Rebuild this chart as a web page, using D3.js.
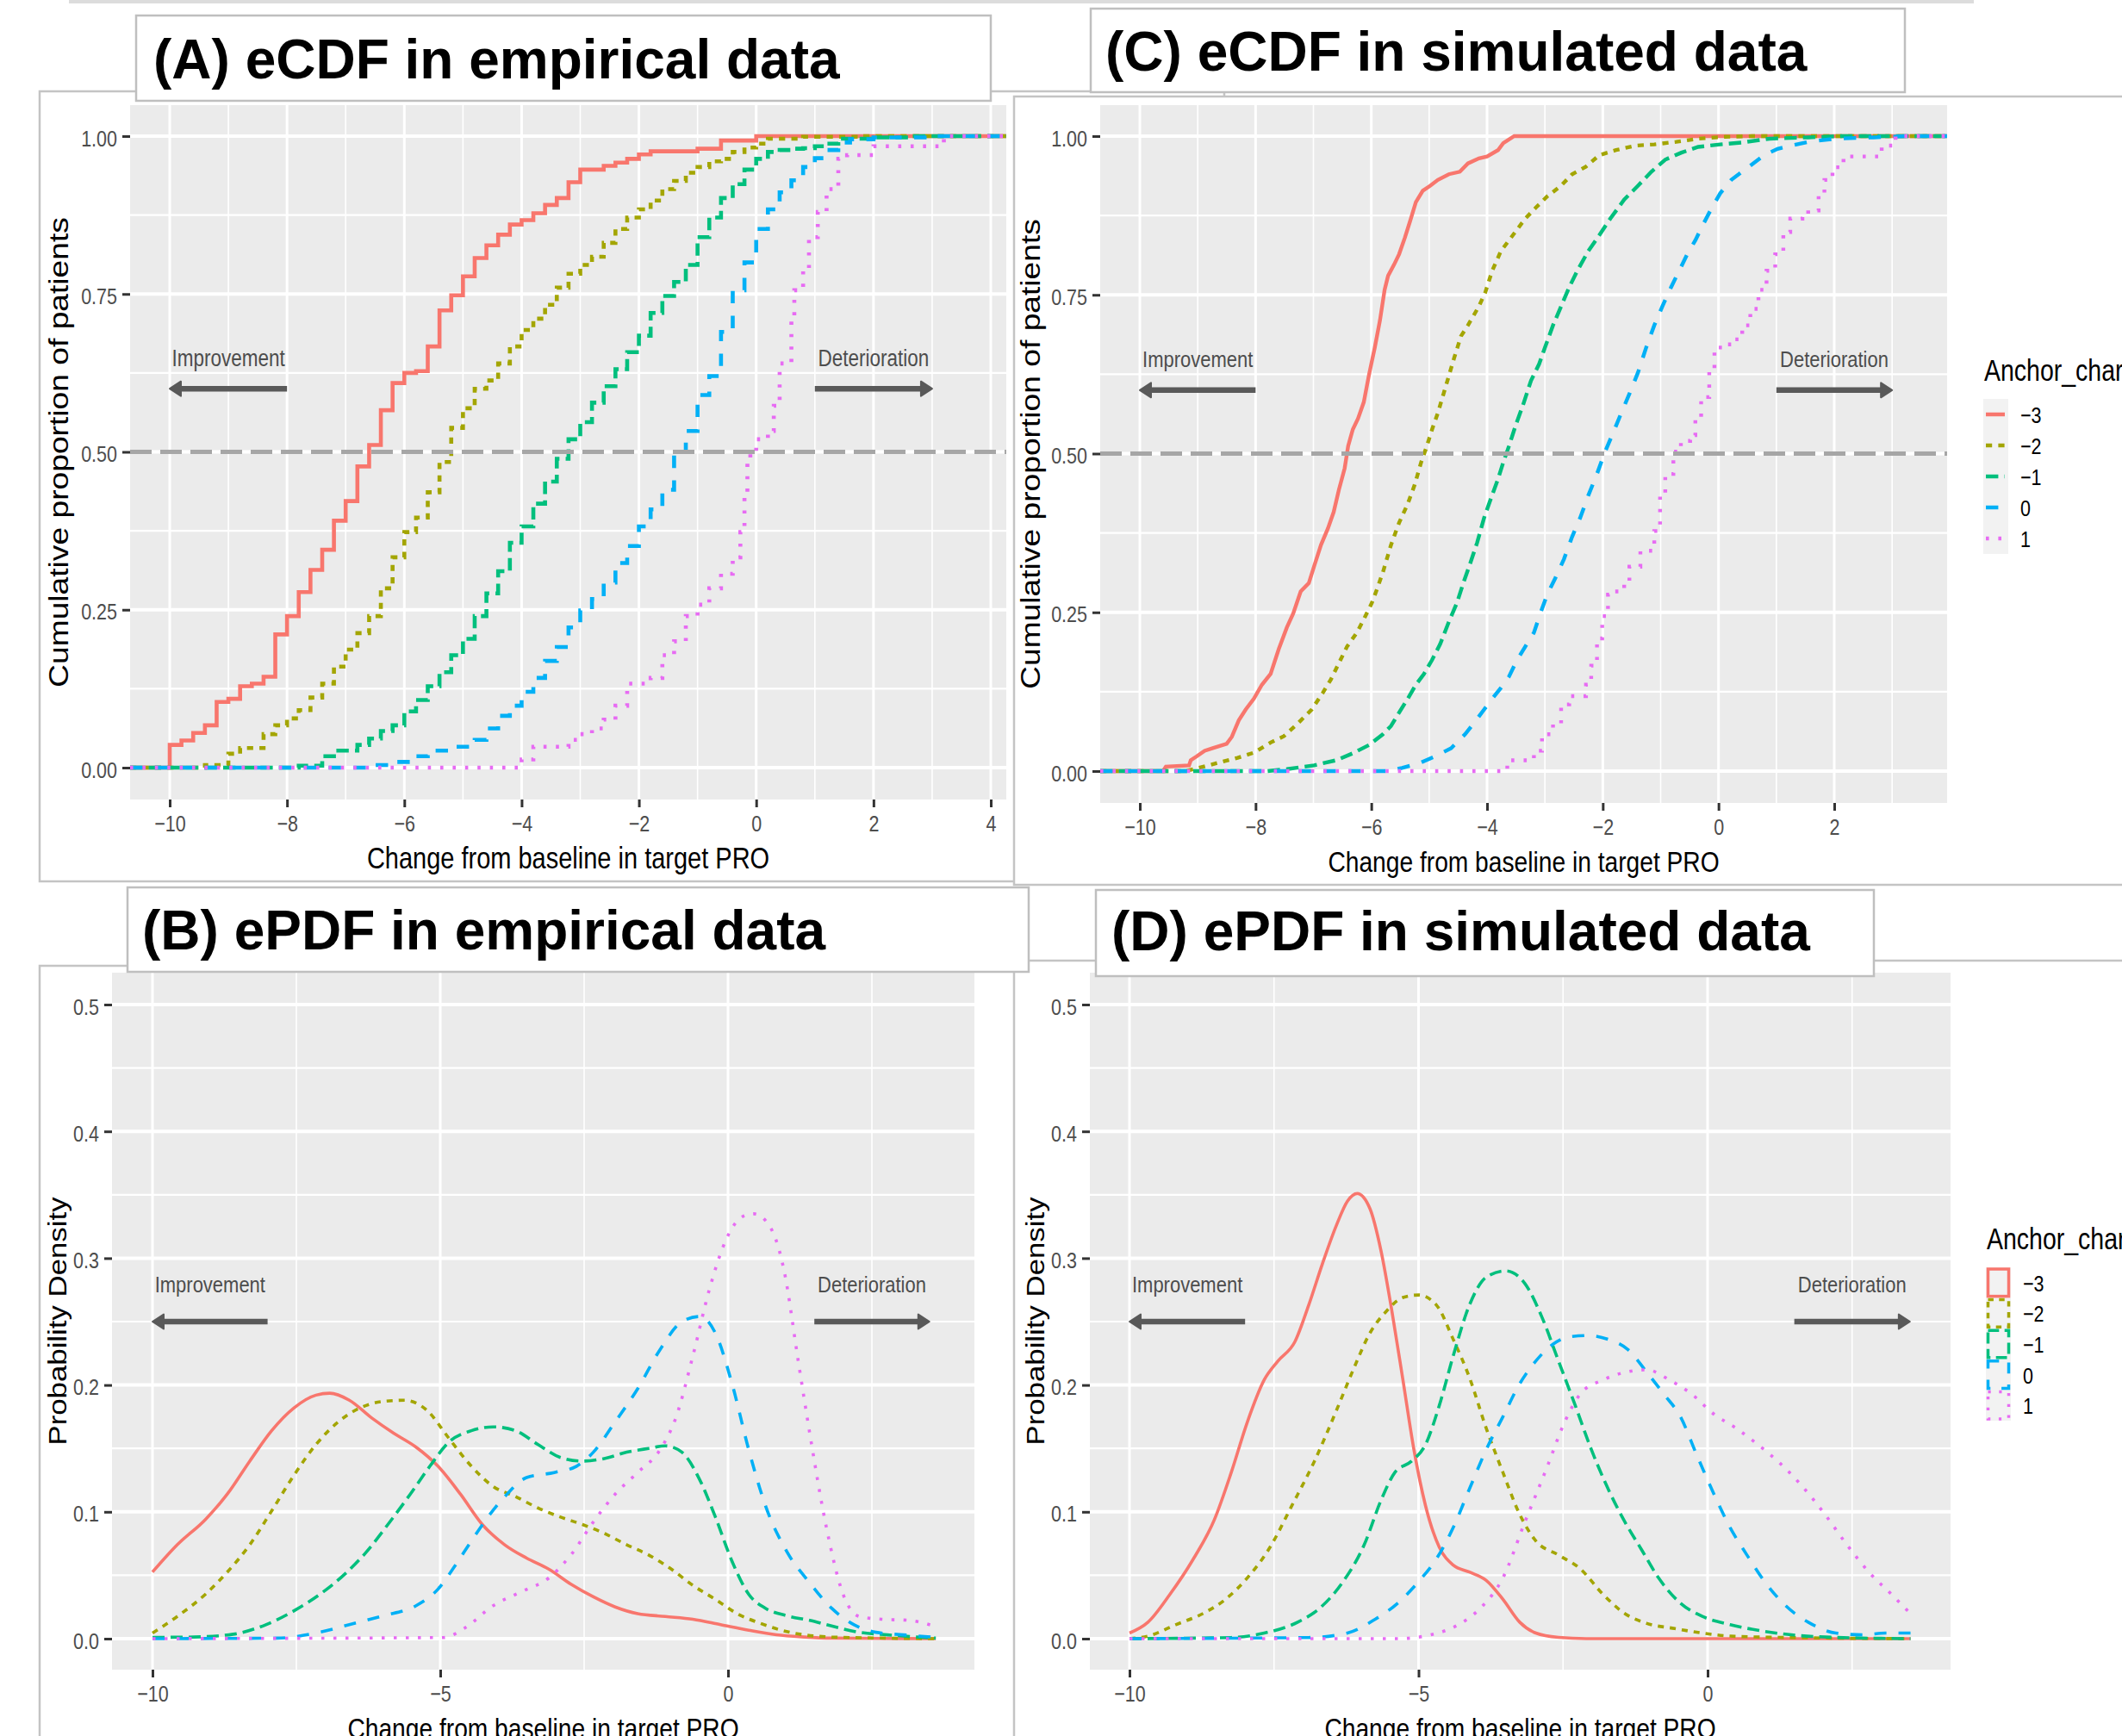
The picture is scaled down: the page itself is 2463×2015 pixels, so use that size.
<!DOCTYPE html>
<html>
<head>
<meta charset="utf-8">
<script src="https://cdn.jsdelivr.net/npm/d3@7"></script>
<style>
  body { margin: 0; background: #fff; }
  svg { display: block; }
</style>
</head>
<body>
<script>
// ---- data ----
const groups = ['\u22123', '\u22122', '\u22121', '0', '1'];
const colors = ['#F8766D', '#A3A500', '#00BF7D', '#00B0F6', '#E76BF3'];
const dashUnits = [null, [2, 2], [4, 2], [4, 4], [1, 3]];

const xTicksCdfEmp = [-10, -8, -6, -4, -2, 0, 2, 4];
const xTicksCdfSim = [-10, -8, -6, -4, -2, 0, 2];
const yTicksCdf = [0, 0.25, 0.5, 0.75, 1];
const xTicksPdf = [-10, -5, 0];
const yTicksPdf = [0, 0.1, 0.2, 0.3, 0.4, 0.5];

// (A) eCDF empirical: [x, cumulative proportion] after each step
const cdfEmpM3 = [[-10,0.036],[-9.8,0.043],[-9.6,0.055],[-9.4,0.067],[-9.2,0.104],[-9.0,0.109],[-8.8,0.129],[-8.6,0.133],[-8.4,0.144],[-8.2,0.211],[-8.0,0.24],[-7.8,0.278],[-7.6,0.313],[-7.4,0.345],[-7.2,0.391],[-7.0,0.422],[-6.8,0.477],[-6.6,0.511],[-6.4,0.566],[-6.2,0.609],[-6.0,0.625],[-5.8,0.628],[-5.6,0.667],[-5.4,0.724],[-5.2,0.748],[-5.0,0.778],[-4.8,0.807],[-4.6,0.827],[-4.4,0.844],[-4.2,0.86],[-4.0,0.867],[-3.8,0.878],[-3.6,0.891],[-3.4,0.902],[-3.2,0.927],[-3.0,0.947],[-2.6,0.953],[-2.4,0.958],[-2.2,0.964],[-2.0,0.971],[-1.8,0.976],[-1.0,0.98],[-0.6,0.993],[0.0,1.0]];
const cdfEmpM2 = [[-9.4,0.004],[-9.0,0.022],[-8.8,0.031],[-8.4,0.053],[-8.2,0.067],[-8.0,0.078],[-7.8,0.091],[-7.6,0.111],[-7.4,0.133],[-7.2,0.16],[-7.0,0.187],[-6.8,0.213],[-6.6,0.24],[-6.4,0.284],[-6.2,0.333],[-6.0,0.373],[-5.8,0.396],[-5.6,0.436],[-5.4,0.484],[-5.2,0.538],[-5.0,0.569],[-4.8,0.6],[-4.6,0.613],[-4.4,0.64],[-4.2,0.667],[-4.0,0.693],[-3.8,0.711],[-3.6,0.733],[-3.4,0.76],[-3.2,0.782],[-3.0,0.796],[-2.8,0.809],[-2.6,0.831],[-2.4,0.853],[-2.2,0.871],[-2.0,0.884],[-1.8,0.898],[-1.6,0.916],[-1.4,0.929],[-1.2,0.942],[-1.0,0.951],[-0.8,0.96],[-0.6,0.964],[-0.4,0.975],[-0.2,0.982],[0.0,0.988],[0.2,0.996],[0.8,0.999],[1.8,1.0]];
const cdfEmpM1 = [[-7.8,0.003],[-7.4,0.018],[-7.2,0.027],[-6.8,0.036],[-6.6,0.046],[-6.4,0.058],[-6.2,0.067],[-6.0,0.089],[-5.8,0.107],[-5.6,0.129],[-5.4,0.151],[-5.2,0.178],[-5.0,0.204],[-4.8,0.24],[-4.6,0.276],[-4.4,0.311],[-4.2,0.356],[-4.0,0.382],[-3.8,0.418],[-3.6,0.453],[-3.4,0.489],[-3.2,0.52],[-3.0,0.547],[-2.8,0.578],[-2.6,0.604],[-2.4,0.631],[-2.2,0.658],[-2.0,0.684],[-1.8,0.72],[-1.6,0.747],[-1.4,0.769],[-1.2,0.796],[-1.0,0.84],[-0.8,0.871],[-0.6,0.902],[-0.4,0.924],[-0.2,0.947],[0.0,0.964],[0.2,0.975],[0.4,0.978],[0.6,0.98],[0.8,0.981],[1.0,0.984],[1.2,0.988],[1.4,0.996],[2.0,0.998],[2.6,1.0]];
const cdfEmp0 = [[-6.6,0.004],[-6.2,0.009],[-5.8,0.018],[-5.6,0.027],[-5.2,0.033],[-4.8,0.044],[-4.6,0.062],[-4.4,0.082],[-4.2,0.098],[-4.0,0.12],[-3.8,0.142],[-3.6,0.169],[-3.4,0.191],[-3.2,0.222],[-3.0,0.249],[-2.8,0.267],[-2.6,0.293],[-2.4,0.324],[-2.2,0.351],[-2.0,0.382],[-1.8,0.409],[-1.6,0.44],[-1.4,0.5],[-1.2,0.533],[-1.0,0.59],[-0.8,0.62],[-0.6,0.69],[-0.4,0.756],[-0.2,0.8],[0.0,0.853],[0.2,0.884],[0.4,0.911],[0.6,0.93],[0.8,0.951],[1.0,0.965],[1.2,0.978],[1.4,0.99],[1.6,0.995],[2.0,0.998],[3.0,1.0]];
const cdfEmp1 = [[-4.0,0.013],[-3.8,0.033],[-3.2,0.044],[-3.0,0.053],[-2.8,0.062],[-2.6,0.076],[-2.4,0.098],[-2.2,0.133],[-1.8,0.142],[-1.6,0.178],[-1.4,0.2],[-1.2,0.24],[-1.0,0.258],[-0.8,0.284],[-0.6,0.307],[-0.4,0.333],[-0.27,0.373],[-0.2,0.427],[-0.15,0.489],[-0.1,0.498],[0.0,0.52],[0.2,0.533],[0.3,0.573],[0.4,0.64],[0.6,0.711],[0.65,0.756],[0.8,0.791],[0.9,0.84],[1.05,0.88],[1.2,0.916],[1.4,0.964],[1.55,0.97],[2.0,0.984],[3.2,1.0]];

// (C) eCDF simulated
const cdfSimM3 = [[-9.6,0],[-9.55,0.007],[-9.15,0.009],[-9.12,0.017],[-9.02,0.023],[-8.88,0.032],[-8.74,0.036],[-8.5,0.043],[-8.41,0.054],[-8.29,0.08],[-8.17,0.097],[-8.03,0.114],[-7.89,0.136],[-7.74,0.153],[-7.6,0.192],[-7.46,0.226],[-7.35,0.248],[-7.22,0.283],[-7.08,0.296],[-6.99,0.322],[-6.87,0.356],[-6.75,0.382],[-6.65,0.408],[-6.56,0.443],[-6.46,0.477],[-6.4,0.512],[-6.32,0.538],[-6.23,0.555],[-6.13,0.581],[-6.04,0.624],[-5.94,0.667],[-5.85,0.71],[-5.77,0.758],[-5.71,0.78],[-5.61,0.797],[-5.52,0.814],[-5.42,0.84],[-5.33,0.866],[-5.23,0.896],[-5.11,0.914],[-4.98,0.922],[-4.85,0.931],[-4.66,0.94],[-4.47,0.944],[-4.33,0.957],[-4.14,0.965],[-4.0,0.968],[-3.81,0.978],[-3.72,0.989],[-3.53,1.0]];
const cdfSimM2 = [[-9.2,0],[-9.07,0.003],[-8.69,0.012],[-8.31,0.021],[-8.03,0.029],[-7.74,0.045],[-7.51,0.055],[-7.27,0.075],[-7.03,0.097],[-6.84,0.123],[-6.7,0.144],[-6.56,0.17],[-6.42,0.196],[-6.25,0.218],[-6.13,0.239],[-5.99,0.265],[-5.9,0.287],[-5.8,0.313],[-5.66,0.356],[-5.52,0.391],[-5.37,0.421],[-5.25,0.451],[-5.14,0.486],[-5.04,0.512],[-4.95,0.538],[-4.85,0.564],[-4.71,0.607],[-4.57,0.65],[-4.45,0.685],[-4.33,0.702],[-4.14,0.732],[-4.03,0.754],[-3.91,0.788],[-3.76,0.819],[-3.62,0.836],[-3.48,0.853],[-3.34,0.87],[-3.15,0.888],[-2.96,0.905],[-2.72,0.922],[-2.53,0.94],[-2.29,0.952],[-2.06,0.97],[-1.77,0.978],[-1.44,0.985],[-1.11,0.987],[-0.73,0.991],[-0.35,0.996],[0.12,0.999],[0.6,1.0]];
const cdfSimM1 = [[-7.8,0],[-7.46,0.003],[-6.99,0.009],[-6.61,0.017],[-6.32,0.028],[-6.04,0.041],[-5.8,0.058],[-5.66,0.071],[-5.52,0.092],[-5.37,0.114],[-5.23,0.136],[-5.09,0.153],[-4.95,0.175],[-4.81,0.2],[-4.66,0.235],[-4.52,0.265],[-4.41,0.296],[-4.28,0.33],[-4.17,0.36],[-4.05,0.399],[-3.93,0.43],[-3.81,0.46],[-3.72,0.486],[-3.62,0.512],[-3.5,0.546],[-3.38,0.576],[-3.24,0.615],[-3.1,0.641],[-3.0,0.667],[-2.86,0.702],[-2.72,0.732],[-2.58,0.762],[-2.44,0.788],[-2.25,0.819],[-2.06,0.844],[-1.87,0.87],[-1.63,0.9],[-1.39,0.922],[-1.16,0.944],[-0.92,0.963],[-0.64,0.974],[-0.35,0.983],[0.03,0.987],[0.41,0.99],[0.88,0.996],[1.55,0.998],[2.11,1.0]];
const cdfSim0 = [[-5.7,0],[-5.47,0.005],[-5.18,0.012],[-4.9,0.023],[-4.62,0.036],[-4.38,0.058],[-4.19,0.08],[-4.05,0.097],[-3.91,0.114],[-3.76,0.131],[-3.62,0.149],[-3.48,0.175],[-3.34,0.196],[-3.19,0.218],[-3.08,0.248],[-2.96,0.278],[-2.82,0.304],[-2.67,0.334],[-2.53,0.369],[-2.39,0.399],[-2.25,0.434],[-2.1,0.468],[-1.96,0.503],[-1.82,0.533],[-1.68,0.564],[-1.54,0.594],[-1.39,0.628],[-1.25,0.667],[-1.11,0.702],[-0.97,0.732],[-0.82,0.762],[-0.68,0.788],[-0.54,0.814],[-0.4,0.836],[-0.26,0.862],[-0.11,0.888],[0.03,0.91],[0.22,0.931],[0.41,0.944],[0.6,0.957],[0.79,0.97],[1.02,0.98],[1.26,0.985],[1.55,0.991],[2.02,0.996],[2.68,0.998],[3.25,1.0]];
const cdfSim1 = [[-3.65,0.017],[-3.19,0.032],[-3.05,0.058],[-2.86,0.075],[-2.72,0.105],[-2.58,0.118],[-2.29,0.136],[-2.2,0.166],[-2.1,0.209],[-2.01,0.244],[-1.91,0.278],[-1.82,0.283],[-1.63,0.296],[-1.54,0.322],[-1.35,0.347],[-1.11,0.378],[-1.01,0.434],[-0.92,0.468],[-0.78,0.503],[-0.65,0.52],[-0.49,0.529],[-0.4,0.555],[-0.3,0.589],[-0.16,0.633],[-0.07,0.667],[0.08,0.672],[0.27,0.68],[0.41,0.702],[0.55,0.728],[0.69,0.758],[0.83,0.788],[0.98,0.814],[1.12,0.849],[1.24,0.87],[1.45,0.873],[1.55,0.883],[1.73,0.909],[1.83,0.931],[1.97,0.951],[2.16,0.968],[2.82,0.985],[3.06,1.0]];

// (B) ePDF empirical: [x, density]
const pdfEmpM3 = [[-10,0.0525],[-9.57,0.074],[-9.08,0.094],[-8.7,0.114],[-8.31,0.14],[-7.93,0.164],[-7.54,0.182],[-7.16,0.192],[-6.92,0.1935],[-6.58,0.188],[-6.19,0.174],[-5.81,0.162],[-5.42,0.151],[-5.04,0.136],[-4.65,0.114],[-4.27,0.09],[-3.88,0.074],[-3.5,0.0635],[-3.11,0.0547],[-2.73,0.043],[-2.34,0.033],[-1.96,0.025],[-1.57,0.0197],[-1.09,0.0175],[-0.61,0.0153],[-0.13,0.011],[0.36,0.0066],[0.84,0.003],[1.32,0.0013],[1.8,0.0004],[3.61,0]];
const pdfEmpM2 = [[-10,0.0044],[-9.57,0.0175],[-9.08,0.035],[-8.7,0.0525],[-8.31,0.074],[-7.93,0.1007],[-7.54,0.129],[-7.16,0.153],[-6.77,0.171],[-6.39,0.182],[-6.0,0.187],[-5.62,0.188],[-5.23,0.18],[-4.85,0.158],[-4.46,0.136],[-4.08,0.12],[-3.69,0.112],[-3.3,0.103],[-2.92,0.096],[-2.53,0.09],[-2.15,0.083],[-1.76,0.074],[-1.38,0.066],[-0.99,0.055],[-0.61,0.042],[-0.22,0.031],[0.16,0.0197],[0.55,0.0123],[0.93,0.0066],[1.32,0.003],[1.8,0.0013],[2.77,0.0004],[3.61,0]];
const pdfEmpM1 = [[-10,0.001],[-9.28,0.0013],[-8.6,0.0035],[-8.03,0.011],[-7.54,0.022],[-7.06,0.036],[-6.68,0.05],[-6.29,0.068],[-5.91,0.09],[-5.52,0.114],[-5.18,0.136],[-4.85,0.155],[-4.46,0.164],[-4.08,0.167],[-3.69,0.164],[-3.3,0.153],[-2.92,0.143],[-2.53,0.14],[-2.15,0.142],[-1.76,0.147],[-1.38,0.15],[-1.09,0.152],[-0.8,0.147],[-0.51,0.127],[-0.22,0.096],[0.07,0.061],[0.36,0.035],[0.65,0.024],[1.03,0.018],[1.42,0.0144],[1.8,0.01],[2.28,0.005],[2.77,0.003],[3.61,0.0004]];
const pdfEmp0 = [[-10,0],[-7.83,0.0004],[-7.16,0.0044],[-6.58,0.011],[-6.0,0.018],[-5.42,0.026],[-5.04,0.039],[-4.75,0.057],[-4.46,0.077],[-4.17,0.096],[-3.88,0.112],[-3.5,0.127],[-3.02,0.131],[-2.63,0.136],[-2.34,0.147],[-1.96,0.171],[-1.57,0.197],[-1.18,0.228],[-0.8,0.25],[-0.49,0.254],[-0.22,0.241],[0.07,0.201],[0.36,0.149],[0.65,0.105],[1.03,0.068],[1.42,0.044],[1.8,0.024],[2.19,0.011],[2.57,0.005],[3.05,0.003],[3.61,0.001]];
const pdfEmp1 = [[-10,0],[-4.94,0.0009],[-4.56,0.0088],[-4.08,0.026],[-3.59,0.037],[-3.11,0.048],[-2.73,0.066],[-2.34,0.092],[-1.96,0.114],[-1.57,0.131],[-1.18,0.149],[-0.9,0.175],[-0.61,0.223],[-0.32,0.276],[-0.03,0.315],[0.26,0.333],[0.45,0.335],[0.74,0.324],[0.98,0.289],[1.22,0.219],[1.42,0.162],[1.71,0.0876],[2.0,0.035],[2.28,0.0175],[2.67,0.0153],[3.15,0.0144],[3.61,0.0096]];

// (D) ePDF simulated
const pdfSimM3 = [[-10,0.0044],[-9.68,0.013],[-9.3,0.035],[-8.92,0.061],[-8.53,0.094],[-8.24,0.131],[-7.96,0.171],[-7.67,0.204],[-7.43,0.219],[-7.14,0.234],[-6.9,0.263],[-6.66,0.296],[-6.42,0.326],[-6.23,0.345],[-6.06,0.351],[-5.84,0.339],[-5.65,0.306],[-5.46,0.258],[-5.27,0.204],[-5.08,0.149],[-4.88,0.105],[-4.64,0.072],[-4.4,0.058],[-4.12,0.0525],[-3.83,0.046],[-3.54,0.031],[-3.25,0.013],[-2.97,0.0044],[-2.58,0.001],[-2.1,0],[3.51,0]];
const pdfSimM2 = [[-10,0],[-9.68,0.002],[-9.2,0.011],[-8.72,0.02],[-8.34,0.031],[-7.96,0.048],[-7.57,0.072],[-7.19,0.105],[-6.8,0.14],[-6.42,0.18],[-6.13,0.212],[-5.84,0.241],[-5.56,0.258],[-5.27,0.269],[-5.0,0.271],[-4.69,0.263],[-4.4,0.236],[-4.12,0.206],[-3.83,0.166],[-3.54,0.131],[-3.25,0.098],[-2.97,0.077],[-2.58,0.066],[-2.2,0.055],[-1.81,0.035],[-1.43,0.0197],[-1.05,0.012],[-0.57,0.008],[-0.09,0.0044],[0.39,0.002],[1.26,0.001],[3.51,0]];
const pdfSimM1 = [[-10,0],[-8.24,0.0009],[-7.67,0.0044],[-7.09,0.013],[-6.71,0.024],[-6.32,0.044],[-5.94,0.074],[-5.65,0.109],[-5.41,0.131],[-5.12,0.14],[-4.88,0.153],[-4.64,0.184],[-4.4,0.223],[-4.12,0.263],[-3.83,0.285],[-3.49,0.29],[-3.16,0.28],[-2.87,0.254],[-2.58,0.219],[-2.29,0.184],[-2.01,0.149],[-1.72,0.118],[-1.43,0.092],[-1.14,0.07],[-0.85,0.048],[-0.47,0.028],[-0.09,0.0175],[0.39,0.011],[0.87,0.0066],[1.45,0.003],[2.22,0.001],[3.51,0]];
const pdfSim0 = [[-10,0],[-6.9,0.0009],[-6.23,0.0044],[-5.75,0.0153],[-5.36,0.028],[-4.98,0.046],[-4.69,0.063],[-4.4,0.0876],[-4.12,0.118],[-3.83,0.149],[-3.54,0.175],[-3.25,0.201],[-2.97,0.219],[-2.68,0.232],[-2.39,0.238],[-2.05,0.239],[-1.72,0.236],[-1.38,0.228],[-1.05,0.21],[-0.76,0.193],[-0.47,0.175],[-0.18,0.144],[0.11,0.114],[0.39,0.0876],[0.68,0.066],[0.97,0.046],[1.35,0.026],[1.74,0.013],[2.22,0.0044],[2.7,0.003],[3.08,0.0044],[3.51,0.0044]];
const pdfSim1 = [[-10,0],[-5.36,0],[-4.79,0.003],[-4.31,0.011],[-3.93,0.024],[-3.54,0.048],[-3.16,0.092],[-2.77,0.136],[-2.49,0.169],[-2.2,0.193],[-1.81,0.204],[-1.43,0.21],[-1.05,0.212],[-0.66,0.204],[-0.28,0.193],[0.11,0.177],[0.49,0.166],[0.87,0.153],[1.26,0.138],[1.64,0.12],[2.03,0.098],[2.41,0.074],[2.79,0.0525],[3.18,0.035],[3.51,0.0197]];

// ---- layout ----
const W = 2463, H = 2015;
const FONT = '"Liberation Sans", Arial, Helvetica, sans-serif';
const SY = 1.2; // the original figure is stretched vertically

const panels = [
  { key: 'A', kind: 'cdf', box: [46, 106, 1421, 1023], white: false,
    tbox: [158, 18, 1150, 117], title: '(A) eCDF in empirical data', tx: 178, ty: 91,
    plot: [151, 122, 1168, 928], xDom: [-10, 4], xRng: [197, 1150], yDom: [0, 1], yRng: [891, 158],
    xTicks: xTicksCdfEmp, xMinorStep: 2, yTicks: yTicksCdf, yFmt: '.2f',
    yTitle: 'Cumulative proportion of patients', yTitleX: 79, yTitleSize: 31, xTitleSize: 29,
    curves: [cdfEmpM3, cdfEmpM2, cdfEmpM1, cdfEmp0, cdfEmp1], step: [1, 1, 1, 1, 1],
    lw: 4.6, unit: 3.6, arrowY: 0.6, textY: 0.65, imp: [-8, -10], det: [1, 3], arrowSize: 22.5 },
  { key: 'C', kind: 'cdf', box: [1177, 112, 2480, 1027], white: true,
    tbox: [1266, 10, 2211, 107], title: '(C) eCDF in simulated data', tx: 1283, ty: 82,
    plot: [1277, 122, 2260, 932], xDom: [-10, 2], xRng: [1323, 2129], yDom: [0, 1], yRng: [895, 158],
    xTicks: xTicksCdfSim, xMinorStep: 2, yTicks: yTicksCdf, yFmt: '.2f',
    yTitle: 'Cumulative proportion of patients', yTitleX: 1207, yTitleSize: 31, xTitleSize: 28.2,
    curves: [cdfSimM3, cdfSimM2, cdfSimM1, cdfSim0, cdfSim1], step: [0, 0, 0, 0, 1],
    lw: 4.4, unit: 3.6, arrowY: 0.6, textY: 0.65, imp: [-8, -10], det: [1, 3], arrowSize: 22,
    legend: { type: 'line', tx: 2303, ty: 442, bx: 2302, by: 463, pitch: 36 } },
  { key: 'B', kind: 'pdf', box: [46, 1121, 1421, 2040], white: false,
    tbox: [148, 1030, 1194, 1128], title: '(B) ePDF in empirical data', tx: 165, ty: 1102,
    plot: [130, 1129, 1131, 1938], xDom: [-10, 0], xRng: [177, 845], yDom: [0, 0.5], yRng: [1902, 1166],
    xTicks: xTicksPdf, xMinorStep: 5, yTicks: yTicksPdf, yFmt: '.1f',
    yTitle: 'Probability Density', yTitleX: 77, yTitleSize: 29, xTitleSize: 28.2,
    curves: [pdfEmpM3, pdfEmpM2, pdfEmpM1, pdfEmp0, pdfEmp1],
    lw: 3.6, unit: 3.5, arrowY: 0.25, textY: 0.28, imp: [-8, -10], det: [1.5, 3.5], arrowSize: 22 },
  { key: 'D', kind: 'pdf', box: [1177, 1115, 2480, 2040], white: true,
    tbox: [1272, 1033, 2175, 1133], title: '(D) ePDF in simulated data', tx: 1290, ty: 1103,
    plot: [1265, 1129, 2264, 1938], xDom: [-10, 0], xRng: [1311, 1982], yDom: [0, 0.5], yRng: [1902, 1166],
    xTicks: xTicksPdf, xMinorStep: 5, yTicks: yTicksPdf, yFmt: '.1f',
    yTitle: 'Probability Density', yTitleX: 1212, yTitleSize: 29, xTitleSize: 28.2,
    curves: [pdfSimM3, pdfSimM2, pdfSimM1, pdfSim0, pdfSim1],
    lw: 3.6, unit: 3.5, arrowY: 0.25, textY: 0.28, imp: [-8, -10], det: [1.5, 3.5], arrowSize: 22,
    legend: { type: 'box', tx: 2306, ty: 1450, bx: 2305, by: 1471, pitch: 35.6 } }
];

const svg = d3.select('body').append('svg')
  .attr('width', W).attr('height', H)
  .attr('font-family', FONT);
svg.append('rect').attr('width', W).attr('height', H).attr('fill', '#fff');
const defs = svg.append('defs');

// faint line along the top edge
svg.append('rect').attr('x', 80).attr('y', 0).attr('width', 2211).attr('height', 4).attr('fill', '#DCDCDC');

function stretchedText(parent, x, y, str, size, opts = {}) {
  return parent.append('text')
    .attr('transform', `translate(${x},${y}) scale(1,${SY})` + (opts.rotate ? ' rotate(-90)' : ''))
    .attr('font-size', size)
    .attr('text-anchor', opts.anchor || 'start')
    .attr('fill', opts.fill || '#000')
    .text(str);
}

function dashFor(i, unit) {
  return dashUnits[i] ? dashUnits[i].map(d => d * unit).join(' ') : null;
}

function minorTicks(major, step, lo, hi) {
  const out = [];
  for (let v = major[0] - step / 2; v <= hi; v += step) {
    if (v >= lo && !major.includes(v)) out.push(v);
  }
  return out;
}

function drawArrow(g, x1, x2, yy) {
  const dir = Math.sign(x2 - x1);
  g.append('line')
    .attr('x1', x1).attr('x2', x2 - dir * 8).attr('y1', yy).attr('y2', yy)
    .attr('stroke', '#595959').attr('stroke-width', 6.5);
  g.append('path')
    .attr('d', `M${x2},${yy}L${x2 - dir * 13},${yy - 8.5}L${x2 - dir * 13},${yy + 8.5}Z`)
    .attr('fill', '#595959').attr('stroke', '#595959')
    .attr('stroke-width', 2).attr('stroke-linejoin', 'round');
}

panels.forEach(p => {
  const [px0, py0, px1, py1] = p.plot;
  const x = d3.scaleLinear().domain(p.xDom).range(p.xRng);
  const y = d3.scaleLinear().domain(p.yDom).range(p.yRng);
  const xMin = x.invert(px0), xMax = x.invert(px1);
  const yMin = y.invert(py1), yMax = y.invert(py0);

  // outer frame
  svg.append('rect')
    .attr('x', p.box[0]).attr('y', p.box[1])
    .attr('width', p.box[2] - p.box[0]).attr('height', p.box[3] - p.box[1])
    .attr('fill', p.white ? '#fff' : 'none')
    .attr('stroke', '#C4C4C4').attr('stroke-width', 2.5);

  // panel background
  svg.append('rect')
    .attr('x', px0).attr('y', py0).attr('width', px1 - px0).attr('height', py1 - py0)
    .attr('fill', '#EBEBEB');

  defs.append('clipPath').attr('id', 'clip' + p.key)
    .append('rect').attr('x', px0).attr('y', py0).attr('width', px1 - px0).attr('height', py1 - py0);
  const g = svg.append('g').attr('clip-path', `url(#clip${p.key})`);

  // grid lines
  const yStep = p.yTicks[1] - p.yTicks[0];
  const xMinor = minorTicks(p.xTicks, p.xMinorStep, xMin, xMax);
  const yMinor = minorTicks(p.yTicks, yStep, yMin, yMax);
  g.selectAll('.gxm').data(xMinor).enter().append('line')
    .attr('x1', d => x(d)).attr('x2', d => x(d)).attr('y1', py0).attr('y2', py1)
    .attr('stroke', '#fff').attr('stroke-width', 1.6);
  g.selectAll('.gym').data(yMinor).enter().append('line')
    .attr('y1', d => y(d)).attr('y2', d => y(d)).attr('x1', px0).attr('x2', px1)
    .attr('stroke', '#fff').attr('stroke-width', 2.2);
  g.selectAll('.gxM').data(p.xTicks).enter().append('line')
    .attr('x1', d => x(d)).attr('x2', d => x(d)).attr('y1', py0).attr('y2', py1)
    .attr('stroke', '#fff').attr('stroke-width', 3);
  g.selectAll('.gyM').data(p.yTicks).enter().append('line')
    .attr('y1', d => y(d)).attr('y2', d => y(d)).attr('x1', px0).attr('x2', px1)
    .attr('stroke', '#fff').attr('stroke-width', 4);

  // curves
  p.curves.forEach((pts, i) => {
    let data, curve;
    if (p.kind === 'cdf') {
      data = [[xMin, 0], ...pts, [xMax, 1]];
      curve = p.step[i] ? d3.curveStepAfter : d3.curveLinear;
    } else {
      data = pts;
      curve = d3.curveMonotoneX;
    }
    const line = d3.line().x(d => x(d[0])).y(d => y(d[1])).curve(curve);
    g.append('path')
      .datum(data)
      .attr('d', line)
      .attr('fill', 'none')
      .attr('stroke', colors[i])
      .attr('stroke-width', p.lw)
      .attr('stroke-dasharray', dashFor(i, p.unit));
  });

  // median reference line
  if (p.kind === 'cdf') {
    g.append('line')
      .attr('x1', px0).attr('x2', px1).attr('y1', y(0.5)).attr('y2', y(0.5))
      .attr('stroke', '#A6A6A6').attr('stroke-width', 5)
      .attr('stroke-dasharray', '25 10');
  }

  // direction arrows and labels
  drawArrow(g, x(p.imp[0]), x(p.imp[1]), y(p.arrowY));
  drawArrow(g, x(p.det[0]), x(p.det[1]), y(p.arrowY));
  stretchedText(svg, x((p.imp[0] + p.imp[1]) / 2), y(p.textY) + 10, 'Improvement', p.arrowSize,
    { anchor: 'middle', fill: '#4D4D4D' });
  stretchedText(svg, x((p.det[0] + p.det[1]) / 2), y(p.textY) + 10, 'Deterioration', p.arrowSize,
    { anchor: 'middle', fill: '#4D4D4D' });

  // axes
  const gx = svg.append('g').attr('transform', `translate(0,${py1})`)
    .call(d3.axisBottom(x).tickValues(p.xTicks).tickSize(9).tickFormat(d3.format('d')));
  const gy = svg.append('g').attr('transform', `translate(${px0},0)`)
    .call(d3.axisLeft(y).tickValues(p.yTicks).tickSize(9).tickFormat(d3.format(p.yFmt)));
  [gx, gy].forEach(ax => {
    ax.attr('font-family', FONT).attr('font-size', 21.5);
    ax.select('.domain').remove();
    ax.selectAll('.tick line').attr('stroke', '#333333').attr('stroke-width', 3);
    ax.selectAll('.tick text').attr('fill', '#4D4D4D').attr('x', null).attr('y', null).attr('dy', null);
  });
  gx.selectAll('.tick text').attr('text-anchor', 'middle')
    .attr('transform', `translate(0,37) scale(1,${SY})`);
  gy.selectAll('.tick text').attr('text-anchor', 'end')
    .attr('transform', `translate(-15,11) scale(1,${SY})`);

  // axis titles
  stretchedText(svg, (px0 + px1) / 2, py1 + 80, 'Change from baseline in target PRO', p.xTitleSize,
    { anchor: 'middle' });
  stretchedText(svg, p.yTitleX, (py0 + py1) / 2, p.yTitle, p.yTitleSize,
    { anchor: 'middle', rotate: true });

  // legend
  if (p.legend) {
    const L = p.legend;
    stretchedText(svg, L.tx, L.ty, 'Anchor_char', 28.5);
    svg.append('rect')
      .attr('x', L.bx).attr('y', L.by).attr('width', 29).attr('height', L.pitch * groups.length)
      .attr('fill', '#F2F2F2');
    groups.forEach((lab, i) => {
      const cy = L.by + L.pitch * i + L.pitch / 2;
      if (L.type === 'line') {
        svg.append('line')
          .attr('x1', L.bx + 3).attr('x2', L.bx + 25).attr('y1', cy).attr('y2', cy)
          .attr('stroke', colors[i]).attr('stroke-width', 4.5)
          .attr('stroke-dasharray', dashFor(i, 3.6));
      } else {
        svg.append('rect')
          .attr('x', L.bx + 2.5).attr('y', L.by + L.pitch * i + 2)
          .attr('width', 24).attr('height', L.pitch - 4)
          .attr('fill', 'none')
          .attr('stroke', colors[i]).attr('stroke-width', 3.5)
          .attr('stroke-dasharray', dashFor(i, 3.2));
      }
      stretchedText(svg, L.bx + 43, cy + 10, lab, 21.5);
    });
  }
});

// title boxes on top of the frames
panels.forEach(p => {
  svg.append('rect')
    .attr('x', p.tbox[0]).attr('y', p.tbox[1])
    .attr('width', p.tbox[2] - p.tbox[0]).attr('height', p.tbox[3] - p.tbox[1])
    .attr('fill', '#fff').attr('stroke', '#BFBFBF').attr('stroke-width', 2.5);
  svg.append('text')
    .attr('x', p.tx).attr('y', p.ty)
    .attr('font-size', 64).attr('font-weight', 'bold')
    .attr('fill', '#000')
    .text(p.title);
});
</script>
</body>
</html>
